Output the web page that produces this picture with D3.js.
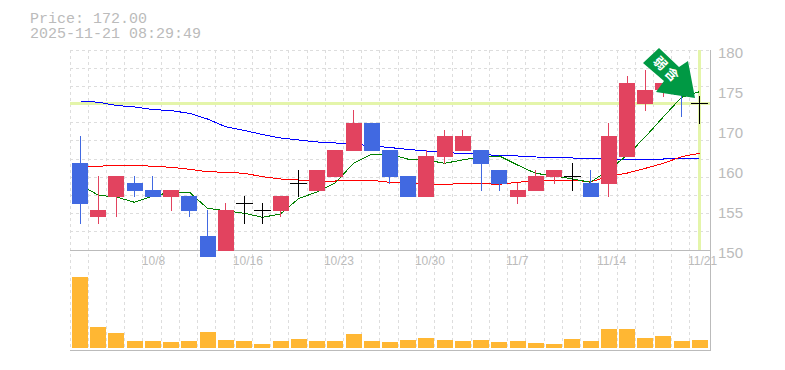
<!DOCTYPE html>
<html>
<head>
<meta charset="utf-8">
<script src="https://cdnjs.cloudflare.com/ajax/libs/d3/7.8.5/d3.min.js"></script>
<style>
  html, body { margin: 0; padding: 0; background: #fff; }
  svg { display: block; }
</style>
</head>
<body>
<div id="chart"></div>
<script>
var dates = ["10/2","10/3","10/6","10/7","10/8","10/9","10/10","10/14","10/15","10/16","10/17","10/20","10/21","10/22","10/23","10/24","10/27","10/28","10/29","10/30","10/31","11/4","11/5","11/6","11/7","11/10","11/11","11/12","11/13","11/14","11/17","11/18","11/19","11/20","11/21"];
var dateLabels = ["10/8","10/16","10/23","10/30","11/7","11/14","11/21"];
var priceLabels = [150,155,160,170,175,180];

var open = [162.5,154.5,157,158.75,157.88,157,157.13,152.13,150.25,156.25,155.38,155.25,158.75,157.75,159.5,165.5,171.25,165.75,159.63,157,164,165.5,165.75,160.75,157,157.75,159.5,159.63,158.75,158.63,164,173.63,175.38,176,173.75];
var high = [169.25,159.63,159.63,159.63,159.63,157.88,157.13,155.38,156.25,157.13,156.25,157.13,160.75,160.75,165.75,172.88,171.25,165.75,159.63,165.75,170.38,170.38,165.75,160.75,158.75,160.75,160.75,162.5,160.75,171.25,177.13,177.88,176.25,176,174.63];
var low = [153.63,153.63,154.5,157,157,155.25,154.5,149.5,150.25,153.63,153.63,154.5,157,157.75,159.5,165.5,165.5,158.63,157,157,162.25,165.5,157.75,157.75,156.13,157.75,158.63,157.75,157,157,164,172.75,174.5,172,171.13];
var close = [156.13,155.38,159.63,157.75,157,157.88,155.25,149.5,155.38,156.25,155.38,157.13,158.75,160.75,165.75,171.25,165.5,159.5,157,164.25,169.25,169.25,162.25,158.63,157.88,159.63,160.75,159.63,157,169.25,176.25,175.38,176.25,174.75,173.75];

var maShort = [158.5,157.21,157,156.34,157.13,157.59,157.59,155.59,155.29,154.96,154.46,154.88,156.79,157.66,158.79,162.43,164.68,164.68,163.43,163.25,162.43,163.25,164.08,164.25,162,159.96,159.63,159.25,158.84,160.75,164.5,169.08,172.04,174.46,175.16];
var maMid = [161.63,161.68,161.93,161.93,161.68,161.43,160.93,160.33,160.18,159.96,159.54,159.25,159.13,159,159,159.09,159.09,158.84,158.71,158.59,158.59,158.66,158.66,158.59,158.84,159.04,159.09,159.09,158.91,159.54,160,161.18,162.43,164.08,164.93];
var maLong = [174,173.84,173.44,173.25,172.94,172.79,172.46,171.75,170.79,170.31,169.63,168.75,168.25,167.75,167.5,167.25,166.75,166.38,165.88,165.5,165.13,164.88,164.63,164.38,164.25,164,163.93,163.75,163.63,163.5,163.5,163.5,163.5,163.63,163.68];
var volume = [71,21,15,7,7,6,7,16,8,7,4,7,9,7,7,14,7,6,8,10,8,7,8,6,7,5,4,9,7,19,19,10,12,7,8];

var width = 785;
var height = 370;
var left = 70, right = 710, top_ = 50, mid = 250, bottom = 350;
var gridColor = "#ddd", axisColor = "#bbb", textColor = "#bbb";
var upColor = "#E2435F", downColor = "#4169E1";

const svg = d3.select("#chart")
    .append("svg")
    .attr("width", width)
    .attr("height", height);

var x = d3.scaleBand()
    .domain(d3.range(dates.length))
    .range([71, 709.2]);

// the printed axis labels are not evenly spaced in value, only in pixels
var y = d3.scaleLinear()
    .domain(priceLabels)
    .range([253, 213, 173, 133, 93, 53]);

var yVol = d3.scaleLinear()
    .domain([0, 100])
    .range([348, 248]);

var cx = i => Math.floor(x(i) + 1) + 8.5;

// Grid
var grid = svg.append("g")
    .attr("stroke", gridColor)
    .attr("stroke-dasharray", "3,3")
    .attr("shape-rendering", "crispEdges");
grid.selectAll("line.v")
    .data(d3.range(dates.length))
    .join("line")
    .attr("class", "v")
    .attr("x1", i => Math.floor(x(i) - 1) + 0.5)
    .attr("x2", i => Math.floor(x(i) - 1) + 0.5)
    .attr("y1", top_)
    .attr("y2", bottom);
grid.selectAll("line.h")
    .data(d3.range(11))
    .join("line")
    .attr("class", "h")
    .attr("x1", left)
    .attr("x2", right)
    .attr("y1", i => Math.floor(top_ + i * 200 / 11) + 0.5)
    .attr("y2", i => Math.floor(top_ + i * 200 / 11) + 0.5);

// Frame
var frame = svg.append("g")
    .attr("stroke", axisColor)
    .attr("shape-rendering", "crispEdges");
frame.append("line").attr("x1", left).attr("x2", right + 1).attr("y1", mid + 0.5).attr("y2", mid + 0.5);
frame.append("line").attr("x1", left).attr("x2", right + 1).attr("y1", bottom + 0.5).attr("y2", bottom + 0.5);
frame.append("line").attr("x1", right + 0.5).attr("x2", right + 0.5).attr("y1", top_).attr("y2", bottom);

// Current price marker
var last = dates.length - 1;
svg.append("line")
    .attr("x1", left).attr("x2", right)
    .attr("y1", y(close[last]) + 0.5).attr("y2", y(close[last]) + 0.5)
    .attr("stroke", "#E4F5AA").attr("stroke-width", 3);
svg.append("line")
    .attr("x1", cx(last)).attr("x2", cx(last))
    .attr("y1", top_).attr("y2", mid)
    .attr("stroke", "#E4F5AA").attr("stroke-width", 3);

// Moving averages
var line = d3.line().x((d, i) => cx(i)).y(d => y(d));
[[maLong, "#0000FF"], [maMid, "#FF0000"], [maShort, "#008000"]].forEach(function (s) {
    svg.append("path")
        .attr("d", line(s[0]))
        .attr("fill", "none")
        .attr("stroke", s[1])
        .attr("stroke-width", 1)
        .attr("shape-rendering", "crispEdges");
});

// Candles
var candleColor = i => close[i] > open[i] ? upColor : (close[i] < open[i] ? downColor : "#000");
var candles = svg.append("g").attr("shape-rendering", "crispEdges");
candles.selectAll("line.wick")
    .data(d3.range(dates.length))
    .join("line")
    .attr("class", "wick")
    .attr("x1", cx).attr("x2", cx)
    .attr("y1", i => y(high[i]))
    .attr("y2", i => y(low[i]))
    .attr("stroke", candleColor);
candles.selectAll("rect")
    .data(d3.range(dates.length).filter(i => close[i] !== open[i]))
    .join("rect")
    .attr("x", i => Math.round(x(i) + 1))
    .attr("width", 16)
    .attr("y", i => y(Math.max(open[i], close[i])))
    .attr("height", i => Math.abs(y(open[i]) - y(close[i])))
    .attr("fill", candleColor);
candles.selectAll("line.doji")
    .data(d3.range(dates.length).filter(i => close[i] === open[i]))
    .join("line")
    .attr("class", "doji")
    .attr("x1", i => cx(i) - 8.5)
    .attr("x2", i => cx(i) + 8.5)
    .attr("y1", i => y(close[i]) + 0.5)
    .attr("y2", i => y(close[i]) + 0.5)
    .attr("stroke", "#000");

// Volume
svg.append("g")
    .attr("shape-rendering", "crispEdges")
    .selectAll("rect")
    .data(volume)
    .join("rect")
    .attr("x", (d, i) => Math.round(x(i) + 1))
    .attr("width", 16)
    .attr("y", d => yVol(d))
    .attr("height", d => yVol(0) - yVol(d))
    .attr("fill", "#FFB733");

// Axes
var yAxis = g => g
    .attr("transform", `translate(${right},0)`)
    .call(d3.axisRight(y).tickValues(priceLabels).tickSize(0).tickPadding(8))
    .call(g => g.select(".domain").remove())
    .call(g => g.selectAll(".tick text")
        .attr("fill", textColor)
        .style("font-size", "15px")
        .style("font-family", "'Liberation Sans'"));
svg.append("g").call(yAxis);

var xAxis = g => g
    .attr("transform", `translate(0,${mid})`)
    .call(d3.axisBottom(d3.scalePoint().domain(dates).range([cx(0), cx(last)])).tickValues(dateLabels).tickSize(0).tickPadding(0))
    .call(g => g.select(".domain").remove())
    .call(g => g.selectAll(".tick text")
        .attr("fill", textColor)
        .attr("text-anchor", "start")
        .attr("x", -12)
        .attr("y", 6)
        .style("font-size", "12px")
        .style("font-family", "'Liberation Sans'"));
svg.append("g").call(xAxis);

// Signal arrow, hung off the last candle
var arrow = svg.append("g")
    .attr("transform", `translate(${cx(last) - 4.5},${y(close[last]) - 5})`);
arrow.append("path")
    .attr("d", "M0,0 L-39,-6 L-31,-17 L-52,-35 L-36,-50 L-16,-31 L-7,-37 Z")
    .attr("fill", "#009944");
arrow.append("text")
    .attr("transform", "translate(-28,-28) rotate(45)")
    .attr("text-anchor", "middle")
    .attr("dy", "0.35em")
    .attr("fill", "#fff")
    .style("font-size", "13px")
    .style("font-weight", "bold")
    .style("letter-spacing", "3px")
    .style("font-family", "'Noto Sans CJK JP'")
    .text("弱含");

// Header
var header = svg.append("g")
    .attr("fill", textColor)
    .style("font-size", "15px")
    .style("font-family", "'Liberation Mono'");
header.append("text").attr("x", 30).attr("y", 23).text("Price: 172.00");
header.append("text").attr("x", 30).attr("y", 38).text("2025-11-21 08:29:49");
</script>
</body>
</html>
